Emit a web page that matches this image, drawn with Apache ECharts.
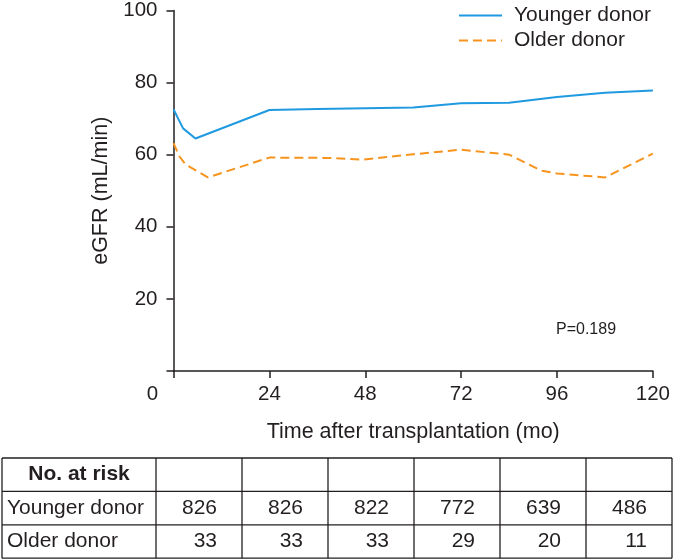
<!DOCTYPE html>
<html>
<head>
<meta charset="utf-8">
<script src="https://cdn.jsdelivr.net/npm/echarts@6/dist/echarts.min.js"></script>
<style>
html,body{margin:0;padding:0;background:#fff;}
#chart{width:673px;height:560px;}
</style>
</head>
<body>
<div id="chart"></div>
<script>
// ---- data ----
var seriesNames = ['Younger donor', 'Older donor'];
var youngerMonths = [0, 2.4, 5.5, 24, 36, 48, 60, 72, 84, 96, 108, 120];
var youngerValues = [72.6, 67.3, 64.5, 72.4, 72.7, 72.9, 73.1, 74.3, 74.4, 76.0, 77.2, 77.8];
var olderMonths = [0, 1.5, 3, 8.6, 24, 40, 47, 60, 72, 84, 92, 96, 108, 120];
var olderValues = [63.2, 59.5, 57.3, 53.7, 59.2, 59.1, 58.6, 60.1, 61.4, 60.0, 55.6, 54.8, 53.7, 60.3];
var riskHeader = 'No. at risk';
var riskYounger = [826, 826, 822, 772, 639, 486];
var riskOlder = [33, 33, 33, 29, 20, 11];
var pText = 'P=0.189';
var xName = 'Time after transplantation (mo)';
var yName = 'eGFR (mL/min)';

function pairs(xs, ys) { return xs.map(function (x, i) { return [x, ys[i]]; }); }

var INK = '#231f20';
var FONT = '"Liberation Sans", Arial, Helvetica, sans-serif';

// ---- table graphics ----
var graphics = [];
var tLeft = 2, tRight = 672, tTop = 458, rowH = 33.4;
var col0W = 154, colW = 86;
var rows = 3;
for (var r = 0; r <= rows; r++) {
  graphics.push({type: 'line', shape: {x1: tLeft, y1: tTop + r * rowH, x2: tRight, y2: tTop + r * rowH},
    style: {stroke: INK, lineWidth: 1.3}});
}
var vx = [tLeft, tLeft + col0W];
for (var c = 1; c <= riskYounger.length; c++) vx.push(tLeft + col0W + c * colW);
vx[vx.length - 1] = tRight;
vx.forEach(function (x) {
  graphics.push({type: 'line', shape: {x1: x, y1: tTop, x2: x, y2: tTop + rows * rowH},
    style: {stroke: INK, lineWidth: 1.3}});
});
graphics.push({type: 'text', x: (tLeft + tLeft + col0W) / 2, y: tTop + rowH / 2,
  style: {text: riskHeader, font: 'bold 21px ' + FONT, fill: INK, align: 'center', verticalAlign: 'middle'}});
graphics.push({type: 'text', x: tLeft + 5, y: tTop + rowH * 1.5,
  style: {text: seriesNames[0], font: '21px ' + FONT, fill: INK, align: 'left', verticalAlign: 'middle'}});
graphics.push({type: 'text', x: tLeft + 5, y: tTop + rowH * 2.5,
  style: {text: seriesNames[1], font: '21px ' + FONT, fill: INK, align: 'left', verticalAlign: 'middle'}});
riskYounger.forEach(function (v, i) {
  var right = tLeft + col0W + (i + 1) * colW;
  graphics.push({type: 'text', x: right - 25, y: tTop + rowH * 1.5,
    style: {text: String(v), font: '21px ' + FONT, fill: INK, align: 'right', verticalAlign: 'middle'}});
  graphics.push({type: 'text', x: right - 25, y: tTop + rowH * 2.5,
    style: {text: String(riskOlder[i]), font: '21px ' + FONT, fill: INK, align: 'right', verticalAlign: 'middle'}});
});
graphics.push({type: 'text', x: 556, y: 330,
  style: {text: pText, font: '16px ' + FONT, fill: INK, align: 'left', verticalAlign: 'middle'}});

var chart = echarts.init(document.getElementById('chart'), null, {renderer: 'canvas'});
chart.setOption({
  animation: false,
  backgroundColor: '#fff',
  textStyle: {fontFamily: FONT},
  grid: {left: 173.5, top: 8, width: 483.2, height: 363, containLabel: false},
  legend: {
    orient: 'vertical', left: 458, top: 5, padding: 0, itemWidth: 43, itemHeight: 14, itemGap: 4,
    itemStyle: {opacity: 0},
    textStyle: {fontSize: 21, color: INK, lineHeight: 21, padding: [0, 0, 0, 7], fontFamily: FONT},
    data: seriesNames
  },
  xAxis: {
    type: 'value', min: 0, max: 120, interval: 24,
    name: xName, nameLocation: 'middle', nameGap: 50,
    nameTextStyle: {fontSize: 21.5, color: INK, fontFamily: FONT},
    axisLine: {lineStyle: {color: INK, width: 1.5}},
    axisTick: {length: 7, lineStyle: {color: INK, width: 1.5}},
    splitLine: {show: false},
    axisLabel: {
      fontSize: 20.5, color: INK, margin: 13, fontFamily: FONT,
      formatter: function (v) { return v === 0 ? '{z|0}' : String(v); },
      rich: {z: {fontSize: 20.5, color: INK, fontFamily: FONT, padding: [0, 42, 0, 0]}}
    }
  },
  yAxis: {
    type: 'value', min: 0, max: 100, interval: 20,
    name: yName, nameLocation: 'middle', nameGap: 58, nameRotate: 90,
    nameTextStyle: {fontSize: 21.5, color: INK, fontFamily: FONT},
    axisLine: {lineStyle: {color: INK, width: 1.5}},
    axisTick: {length: 7, lineStyle: {color: INK, width: 1.5}},
    splitLine: {show: false},
    axisLabel: {
      fontSize: 20.5, color: INK, margin: 16, fontFamily: FONT,
      formatter: function (v) { return v === 0 ? '' : String(v); }
    }
  },
  series: [
    {name: seriesNames[0], type: 'line', symbol: 'none', data: pairs(youngerMonths, youngerValues),
      lineStyle: {color: '#1f9ae0', width: 2}, itemStyle: {color: '#1f9ae0'}},
    {name: seriesNames[1], type: 'line', symbol: 'none', data: pairs(olderMonths, olderValues),
      lineStyle: {color: '#f7941d', width: 2, type: [9, 5]}, itemStyle: {color: '#f7941d'}}
  ],
  graphic: graphics
});
</script>
</body>
</html>
